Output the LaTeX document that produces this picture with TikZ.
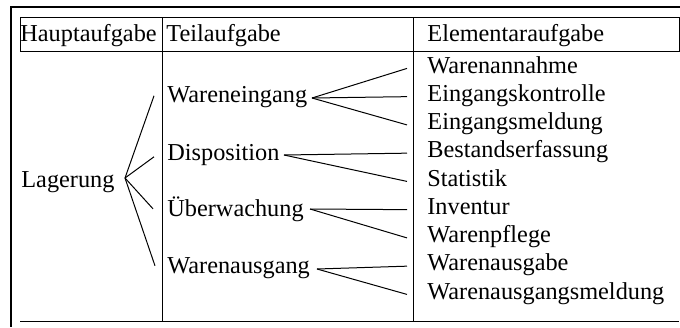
\documentclass[tikz,border=0pt]{standalone}
\usepackage{fontspec}
\setmainfont{Liberation Serif}
\begin{document}
\begin{tikzpicture}[x=0.5pt,y=-0.5pt,
  rule/.style={line width=0.5pt},
  frame/.style={line width=1pt},
  branch/.style={line width=0.5pt},
  lbl/.style={anchor=base west,inner sep=0pt,font=\fontsize{12.15}{14}\selectfont}]
\useasboundingbox (0,0) rectangle (680,327);
% outer frame (top and left edges only)
\draw[frame] (10,6.7) -- (680,6.7);
\draw[frame] (11,6) -- (11,327);
% table rules
\draw[rule] (20,17) rectangle (679,51.5);
\draw[rule] (162,17) -- (162,321.5);
\draw[rule] (413,17) -- (413,321.5);
\draw[rule] (20,321.5) -- (679,321.5);
% header
\node[lbl] (h1) at (20,41.7) {Hauptaufgabe};
\node[lbl] (h2) at (166,41.7) {Teilaufgabe};
\node[lbl] (h3) at (427,41.7) {Elementaraufgabe};
% main task
\node[lbl] (lag) at (21,187) {Lagerung};
% sub tasks
\node[lbl] (we) at (167,102.7) {Wareneingang};
\node[lbl] (di) at (167,160) {Disposition};
\node[lbl] (ue) at (167,216.7) {Überwachung};
\node[lbl] (wa) at (167,273) {Warenausgang};
% elementary tasks
\foreach \n/\t [count=\i from 0] in {e1/Warenannahme,e2/Eingangskontrolle,e3/Eingangsmeldung,
  e4/Bestandserfassung,e5/Statistik,e6/Inventur,e7/Warenpflege,e8/Warenausgabe,e9/Warenausgangsmeldung}
  \node[lbl] (\n) at (427,73+28.25*\i) {\t};
% branching points
\coordinate (vLag) at (125,178);
\coordinate (vWE) at (312,98);
\coordinate (vDI) at (284,155);
\coordinate (vUE) at (310,209);
\coordinate (vWA) at (317,269);
% main task -> sub tasks
\draw[branch] (vLag) -- ([xshift=-6.5pt,yshift=1.15pt]we.mid west);
\draw[branch] (vLag) -- ([xshift=-6.5pt,yshift=-0.7pt]di.mid west);
\draw[branch] (vLag) -- ([xshift=-7pt,yshift=1.65pt]ue.mid west);
\draw[branch] (vLag) -- ([xshift=-6pt,yshift=1.3pt]wa.mid west);
% sub tasks -> elementary tasks
\draw[branch] (vWE) -- ([xshift=-10pt]e1.mid west);
\draw[branch] (vWE) -- ([xshift=-10pt]e2.mid west);
\draw[branch] (vWE) -- ([xshift=-10pt]e3.mid west);
\draw[branch] (vDI) -- ([xshift=-10pt]e4.mid west);
\draw[branch] (vDI) -- ([xshift=-10pt]e5.mid west);
\draw[branch] (vUE) -- ([xshift=-10pt]e6.mid west);
\draw[branch] (vUE) -- ([xshift=-10pt]e7.mid west);
\draw[branch] (vWA) -- ([xshift=-10pt]e8.mid west);
\draw[branch] (vWA) -- ([xshift=-10pt]e9.mid west);
\end{tikzpicture}
\end{document}
